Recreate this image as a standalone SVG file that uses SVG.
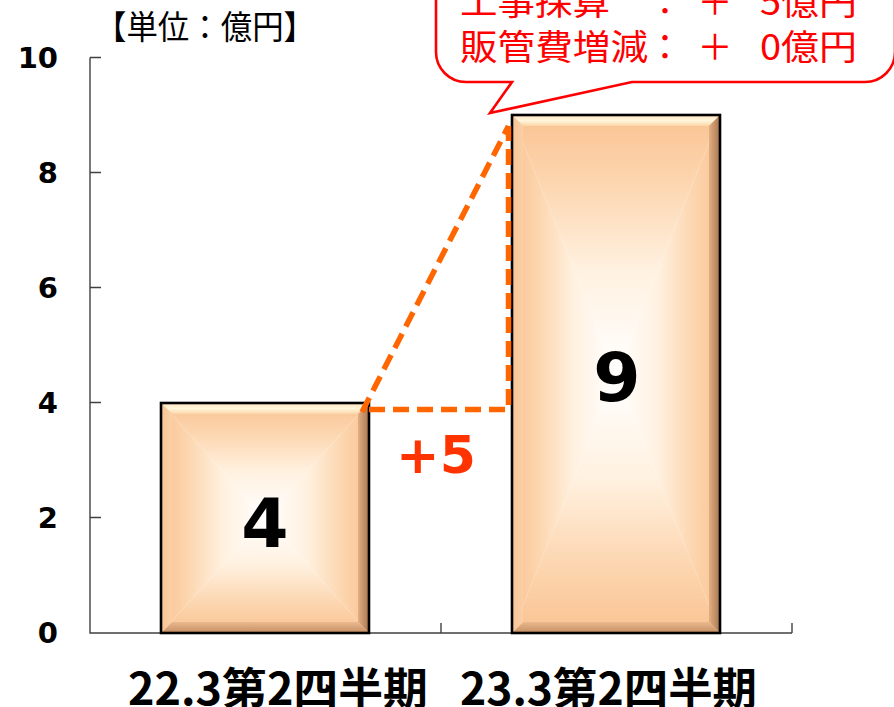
<svg xmlns="http://www.w3.org/2000/svg" width="894" height="707" viewBox="0 0 894 707">
<defs>
<style>
.axis{stroke:#404040;stroke-width:1.4;fill:none}
.ylab{font-family:"DejaVu Sans",Verdana,sans-serif;font-weight:bold;font-size:29px;fill:#000;text-anchor:end}
.val{font-family:"DejaVu Sans",Verdana,sans-serif;font-weight:bold;font-size:68px;fill:#000;text-anchor:middle}
.cat{font-family:"Noto Sans CJK JP","Noto Sans",sans-serif;font-weight:bold;font-size:44px;fill:#000}
.call{font-family:"Noto Sans CJK JP","Noto Sans",sans-serif;font-size:35px;fill:#FF0000}
.unit{font-family:"Noto Sans CJK JP","Noto Sans",sans-serif;font-size:33px;fill:#000}
.dash{stroke:#FF6600;stroke-width:5.5;fill:none;stroke-dasharray:16 8}
.barline{fill:none;stroke:#000;stroke-width:2.6}
</style>
<linearGradient id="gT" x1="0" y1="0" x2="0" y2="1"><stop offset="0" stop-color="#FAC393"/><stop offset="0.25" stop-color="#FCD5AE"/><stop offset="0.6" stop-color="#FFF1E0"/><stop offset="1" stop-color="#FFFFFF"/></linearGradient>
<linearGradient id="gB" x1="0" y1="1" x2="0" y2="0"><stop offset="0" stop-color="#FAC393"/><stop offset="0.25" stop-color="#FCD5AE"/><stop offset="0.6" stop-color="#FFF1E0"/><stop offset="1" stop-color="#FFFFFF"/></linearGradient>
<linearGradient id="gL" x1="0" y1="0" x2="1" y2="0"><stop offset="0" stop-color="#FAC393"/><stop offset="0.25" stop-color="#FCD5AE"/><stop offset="0.6" stop-color="#FFF1E0"/><stop offset="1" stop-color="#FFFFFF"/></linearGradient>
<linearGradient id="gR" x1="1" y1="0" x2="0" y2="0"><stop offset="0" stop-color="#FAC393"/><stop offset="0.25" stop-color="#FCD5AE"/><stop offset="0.6" stop-color="#FFF1E0"/><stop offset="1" stop-color="#FFFFFF"/></linearGradient>
<linearGradient id="bvT" x1="0" y1="0" x2="0" y2="1"><stop offset="0" stop-color="#FFE6C0"/><stop offset="0.5" stop-color="#FFF6DC"/><stop offset="1" stop-color="#FCD6A8"/></linearGradient>
<linearGradient id="bvR" x1="0" y1="0" x2="1" y2="0"><stop offset="0" stop-color="#E2AE82"/><stop offset="1" stop-color="#A87650"/></linearGradient>
<linearGradient id="bvB" x1="0" y1="0" x2="0" y2="1"><stop offset="0" stop-color="#EAB98D"/><stop offset="1" stop-color="#C48E64"/></linearGradient>
<linearGradient id="bvL" x1="0" y1="0" x2="1" y2="0"><stop offset="0" stop-color="#F6C497"/><stop offset="1" stop-color="#FAD0A5"/></linearGradient>
</defs>
<rect width="894" height="707" fill="#fff"/>

<g id="axes">
<path class="axis" d="M90,57.5V633H792M90,57.5H101M90,172.5H101M90,287.5H101M90,402.5H101M90,517.5H101M441,633V623M792,633V623"/>
<text class="ylab" x="58" y="68">10</text>
<text class="ylab" x="58" y="183">8</text>
<text class="ylab" x="58" y="298">6</text>
<text class="ylab" x="58" y="413">4</text>
<text class="ylab" x="58" y="528">2</text>
<text class="ylab" x="58" y="643">0</text>
</g>

<g id="unit"><text class="unit" x="95" y="39" textLength="220" lengthAdjust="spacingAndGlyphs">【単位：億円】</text></g>

<g id="bar1">
<polygon points="161,403 369,403 265,518" fill="url(#gT)"/>
<polygon points="161,633 369,633 265,518" fill="url(#gB)"/>
<polygon points="161,403 161,633 265,518" fill="url(#gL)"/>
<polygon points="369,403 369,633 265,518" fill="url(#gR)"/>
<polygon points="161,403 369,403 358,414 172,414" fill="url(#bvT)"/>
<polygon points="369,403 369,633 358,622 358,414" fill="url(#bvR)"/>
<polygon points="161,633 369,633 358,622 172,622" fill="url(#bvB)"/>
<polygon points="161,403 161,633 172,622 172,414" fill="url(#bvL)"/>
<rect class="barline" x="161" y="403" width="208" height="230"/>
<text class="val" x="265" y="547">4</text>
</g>

<g id="bar2">
<polygon points="512,115 720,115 616,374" fill="url(#gT)"/>
<polygon points="512,633 720,633 616,374" fill="url(#gB)"/>
<polygon points="512,115 512,633 616,374" fill="url(#gL)"/>
<polygon points="720,115 720,633 616,374" fill="url(#gR)"/>
<polygon points="512,115 720,115 709,126 523,126" fill="url(#bvT)"/>
<polygon points="720,115 720,633 709,622 709,126" fill="url(#bvR)"/>
<polygon points="512,633 720,633 709,622 523,622" fill="url(#bvB)"/>
<polygon points="512,115 512,633 523,622 523,126" fill="url(#bvL)"/>
<rect class="barline" x="512" y="115" width="208" height="518"/>
<text class="val" x="617" y="401">9</text>
</g>

<g id="connectors">
<path class="dash" d="M369,409.5H508.5V126"/>
<path class="dash" d="M362,412L508.5,126"/>
</g>

<g id="delta"><text x="436" y="473" font-family="DejaVu Sans,Verdana,sans-serif" font-weight="bold" font-size="52" fill="#FF3300" text-anchor="middle">+5</text></g>

<g id="callout">
<path d="M436,-60V52A30,30 0 0 0 466,82H512L490,113L632,82H865A30,30 0 0 0 895,52V-60Z" fill="#fff" stroke="#FF0000" stroke-width="2.6"/>
<text class="call" x="460" y="14.5" textLength="150" lengthAdjust="spacingAndGlyphs">工事採算</text>
<text class="call" x="665" y="14.5" text-anchor="middle">：</text>
<text class="call" x="715" y="14.5" text-anchor="middle">＋</text>
<text class="call" x="760" y="14.5" textLength="97" lengthAdjust="spacingAndGlyphs">5億円</text>
<text class="call" x="460" y="59.5" textLength="188" lengthAdjust="spacingAndGlyphs">販管費増減</text>
<text class="call" x="665" y="59.5" text-anchor="middle">：</text>
<text class="call" x="715" y="59.5" text-anchor="middle">＋</text>
<text class="call" x="760" y="59.5" textLength="97" lengthAdjust="spacingAndGlyphs">0億円</text>
</g>

<g id="categories">
<text class="cat" x="128" y="705" textLength="300" lengthAdjust="spacingAndGlyphs">22.3第2四半期</text>
<text class="cat" x="460" y="705" textLength="297" lengthAdjust="spacingAndGlyphs">23.3第2四半期</text>
</g>
</svg>
